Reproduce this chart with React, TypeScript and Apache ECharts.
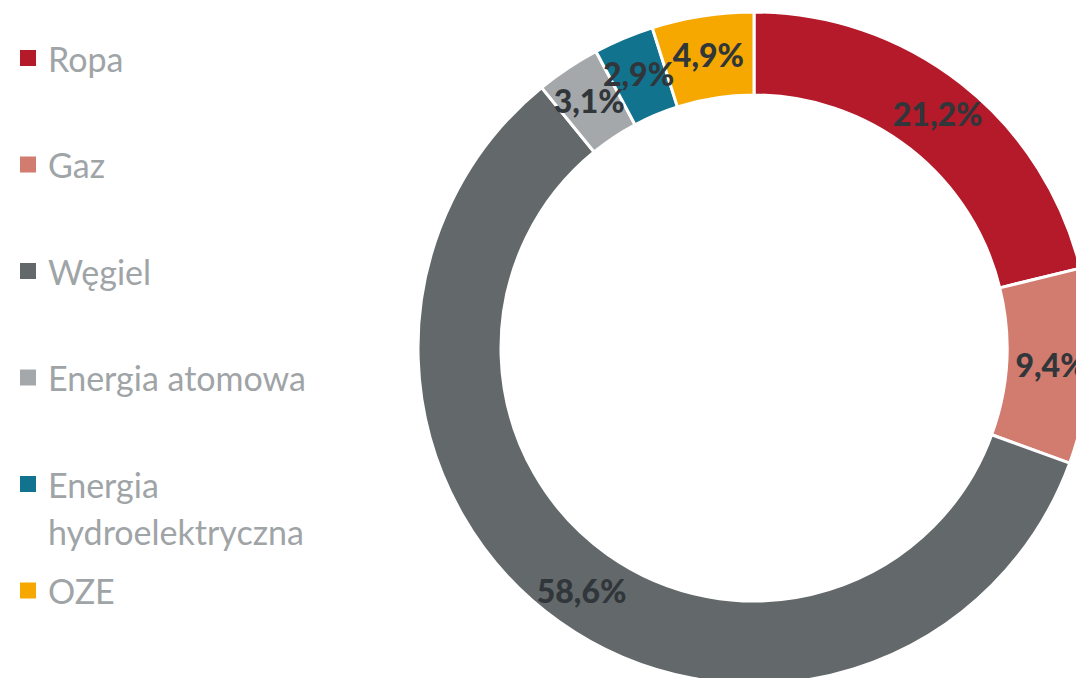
import React, { useEffect, useRef } from "react";
import * as echarts from "echarts";

const categories = ["Ropa", "Gaz", "Węgiel", "Energia atomowa", "Energia hydroelektryczna", "OZE"];
const legendLabels = ["Ropa", "Gaz", "Węgiel", "Energia atomowa", "Energia\nhydroelektryczna", "OZE"];
const values = [21.2, 9.4, 58.6, 3.1, 2.9, 4.9];
const colors = ["#b41a29", "#d27b6f", "#63686a", "#a5a8aa", "#12738f", "#f6a800"];

export default function App() {
  const ref = useRef<HTMLDivElement>(null);
  useEffect(() => {
    if (!ref.current) return;
    const chart = echarts.init(ref.current, undefined, { renderer: "svg" });
    const legendY0 = 58;
    const legendStep = 106.5;
    const graphic: any[] = [];
    categories.forEach((c, i) => {
      const cy = legendY0 + i * legendStep;
      graphic.push({
        type: "rect",
        shape: { x: 20, y: cy - 8, width: 16, height: 16 },
        style: { fill: colors[i] },
      });
      graphic.push({
        type: "text",
        x: 48,
        y: cy - 23.5,
        style: {
          text: legendLabels[i],
          fill: "#9fa4a7",
          font: "34px Lato",
          lineHeight: 47,
          verticalAlign: "top",
          align: "left",
        },
      });
    });
    chart.setOption({
      animation: false,
      graphic,
      series: [
        {
          type: "pie",
          center: [754, 348],
          radius: [253, 336],
          startAngle: 90,
          clockwise: true,
          avoidLabelOverlap: false,
          labelLayout: { hideOverlap: false },
          itemStyle: { borderColor: "#ffffff", borderWidth: 3 },
          label: {
            show: true,
            position: "inside",
            formatter: (p: any) => p.value.toFixed(1).replace(".", ",") + "%",
            color: "#30363a",
            fontFamily: "Lato",
            fontWeight: 900,
            fontSize: 32,
          },
          labelLine: { show: false },
          emphasis: { disabled: true },
          data: categories.map((c, i) => ({ name: c, value: values[i], itemStyle: { color: colors[i] } })),
        },
      ],
    });
    return () => chart.dispose();
  }, []);
  return <div ref={ref} style={{ position: "absolute", left: 0, top: 0, width: 1076, height: 678 }} />;
}
